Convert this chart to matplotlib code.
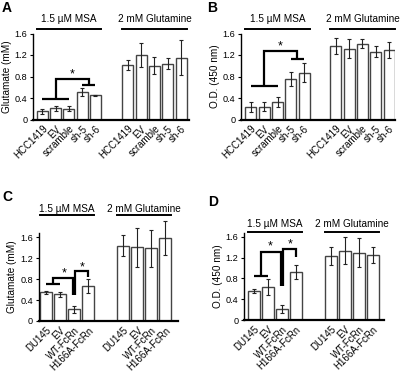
import numpy as np
import matplotlib
matplotlib.use('Agg')
import matplotlib.pyplot as plt

plt.rcParams['font.family'] = ['Liberation Sans', 'DejaVu Sans']
plt.rcParams['font.size'] = 7

# ---- data ----
labels_ab = ['HCC1419', 'EV', 'scramble', 'sh-5', 'sh-6']
labels_cd = ['DU145', 'EV', 'WT-FcRn', 'H166A-FcRn']
groups = ['1.5 \u00b5M MSA', '2 mM Glutamine']

a_msa = [0.15, 0.21, 0.20, 0.51, 0.45]
a_msa_err = [0.04, 0.05, 0.05, 0.07, 0.005]
a_gln = [1.01, 1.20, 1.00, 1.04, 1.15]
a_gln_err = [0.09, 0.22, 0.16, 0.10, 0.32]

b_msa = [0.23, 0.24, 0.32, 0.75, 0.87]
b_msa_err = [0.09, 0.09, 0.09, 0.13, 0.18]
b_gln = [1.36, 1.32, 1.41, 1.26, 1.30]
b_gln_err = [0.15, 0.17, 0.08, 0.10, 0.15]

c_msa = [0.55, 0.51, 0.22, 0.67]
c_msa_err = [0.03, 0.05, 0.06, 0.13]
c_gln = [1.44, 1.41, 1.39, 1.59]
c_gln_err = [0.20, 0.37, 0.35, 0.33]

d_msa = [0.56, 0.63, 0.21, 0.92]
d_msa_err = [0.04, 0.15, 0.07, 0.13]
d_gln = [1.23, 1.33, 1.29, 1.25]
d_gln_err = [0.17, 0.26, 0.28, 0.15]

# significance brackets: polylines (x in bar units, y in data units)
a_brk = [([0, 2], [0.38, 0.38]), ([1, 1, 3.5, 3.5], [0.38, 0.75, 0.75, 0.64]), ([3, 4], [0.64, 0.64])]
b_brk = [([0, 2], [0.63, 0.63]), ([1, 1, 3.5, 3.5], [0.63, 1.28, 1.28, 1.12]), ([3, 4], [1.12, 1.12])]
c_brk = [([0, 1], [0.70, 0.70]), ([0.5, 0.5, 1.93, 1.93], [0.70, 0.82, 0.82, 0.50]),
         ([2.08, 2.08, 3.0, 3.0], [0.50, 0.95, 0.95, 0.84])]
d_brk = [([0, 1], [0.85, 0.85]), ([0.5, 0.5, 1.92, 1.92], [0.85, 1.31, 1.31, 0.65]),
         ([2.08, 2.08, 3.0, 3.0], [0.65, 1.36, 1.36, 1.21])]
a_star = [(2.23, 0.83)]
b_star = [(2.2, 1.36)]
c_star = [(1.3, 0.91), (2.6, 1.03)]
d_star = [(1.2, 1.41), (2.57, 1.45)]

W, H = 400, 381
fig = plt.figure(figsize=(W / 100, H / 100), dpi=100)


def add_ax(x0, x1, ytop, ybot):
    return fig.add_axes([x0 / W, 1 - ybot / H, (x1 - x0) / W, (ybot - ytop) / H])


def panel(ax, labels, msa, msa_err, gln, gln_err, offset, width, xlim, ylim,
          ylabel, brk, stars, line_y, text_y, letter, letter_xy):
    n = len(labels)
    x1 = np.arange(n)
    x2 = np.arange(n) + offset
    x = np.concatenate([x1, x2])
    vals = list(msa) + list(gln)
    errs = list(msa_err) + list(gln_err)
    ax.bar(x, vals, width=width, color='white', edgecolor='#444444', linewidth=1.0, zorder=2)
    ax.errorbar(x, vals, yerr=errs, fmt='none', ecolor='#222222', elinewidth=0.8,
                capsize=1.6, capthick=0.8, zorder=3, clip_on=False)
    ax.set_xlim(*xlim)
    ax.set_ylim(*ylim)
    ax.set_yticks([0, 0.4, 0.8, 1.2, 1.6])
    ax.set_yticklabels(['0', '0.4', '0.8', '1.2', '1.6'])
    ax.set_xticks(x)
    ax.set_xticklabels(labels + labels, rotation=45, ha='right', va='top',
                       rotation_mode='anchor')
    ax.tick_params(axis='x', length=0, pad=3)
    ax.tick_params(axis='y', length=2.5, width=0.8, pad=1.5, labelsize=6.6)
    ax.spines['top'].set_visible(False)
    ax.spines['right'].set_visible(False)
    ax.spines['left'].set_linewidth(1.0)
    ax.spines['bottom'].set_linewidth(1.6)
    ax.spines['left'].set_bounds(0, ylim[1])
    ax.set_ylabel(ylabel, fontsize=7.2, labelpad=2)
    for bx, by in brk:
        ax.plot(bx, by, color='black', lw=1.6, solid_capstyle='butt',
                solid_joinstyle='miter', clip_on=False, zorder=4)
    for sx, sy in stars:
        ax.text(sx, sy, '*', ha='center', va='center', fontsize=9, clip_on=False)
    for gx, name in zip([x1, x2], groups):
        ax.plot([gx[0] - width / 2, gx[-1] + width / 2], [line_y, line_y],
                color='black', lw=1.4, clip_on=False)
        ax.text((gx[0] + gx[-1]) / 2, text_y, name, ha='center', va='center',
                fontsize=7.2, clip_on=False)
    fig.text(letter_xy[0] / W, 1 - letter_xy[1] / H, letter, fontsize=10,
             fontweight='bold', ha='left', va='center')


axA = add_ax(33, 189, 33.5, 119.5)
panel(axA, labels_ab, a_msa, a_msa_err, a_gln, a_gln_err, 6.45, 0.83,
      (-0.7, 11.05), (0, 1.6), 'Glutamate (mM)', a_brk, a_star, 1.69, 1.87,
      'A', (2, 8))

axB = add_ax(241, 395, 33.5, 119.5)
panel(axB, labels_ab, b_msa, b_msa_err, b_gln, b_gln_err, 6.4, 0.83,
      (-0.75, 10.85), (0, 1.6), 'O.D. (450 nm)', b_brk, b_star, 1.68, 1.87,
      'B', (207, 8))

axC = add_ax(38.5, 178, 233.1, 321)
panel(axC, labels_cd, c_msa, c_msa_err, c_gln, c_gln_err, 5.5, 0.85,
      (-0.55, 9.4), (0, 1.68), 'Glutamate (mM)', c_brk, c_star, 2.02, 2.14,
      'C', (2, 197))

axD = add_ax(244, 384, 232.6, 320)
panel(axD, labels_cd, d_msa, d_msa_err, d_gln, d_gln_err, 5.5, 0.85,
      (-0.7, 9.3), (0, 1.68), 'O.D. (450 nm)', d_brk, d_star, 1.70, 1.85,
      'D', (208, 202))

fig.savefig('out.png', dpi=100, facecolor='white')
